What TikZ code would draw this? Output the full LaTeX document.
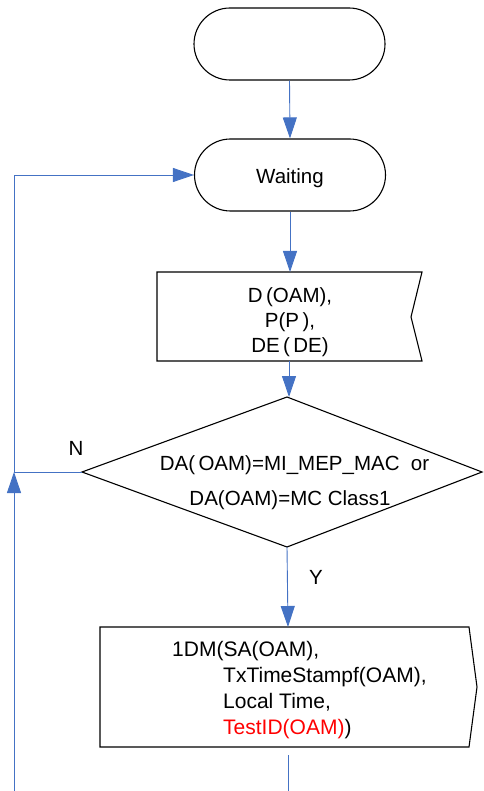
\documentclass[tikz,border=0pt]{standalone}
\usepackage{fontspec}
\setmainfont{Liberation Sans}
\usetikzlibrary{arrows.meta}
\definecolor{flowblue}{HTML}{4472C4}
\definecolor{flowred}{HTML}{FF0000}
\begin{document}
\begin{tikzpicture}[x=1pt,y=-1pt,
  shapeline/.style={draw=black,line width=1.1pt},
  terminal/.style={shapeline,rectangle,rounded corners=36pt,minimum width=191pt,minimum height=72pt,inner sep=0pt},
  conn/.style={draw=flowblue,line width=0.9pt},
  arr/.style={conn,-{Triangle[length=21pt,width=14pt]}},
  txt/.style={font=\fontsize{20.5}{24}\selectfont,inner sep=0pt,anchor=base},
  ltxt/.style={font=\fontsize{21}{24}\selectfont,inner sep=0pt,anchor=base west}]
\useasboundingbox (0,0) rectangle (483,791);
% terminals
\node[terminal] (start) at (289.5,44) {};
\node[terminal] (wait) at (290,175) {};
\node[txt] (waittext) at (290,184) {Waiting};
% input box
\coordinate (inNW) at (157,272);
\coordinate (inNE) at (422,272);
\coordinate (inE) at (411,317);
\coordinate (inSE) at (422,361);
\coordinate (inSW) at (157,361);
\coordinate (inN) at (289,272);
\coordinate (inS) at (289,361);
\draw[shapeline] (inNW) -- (inNE) -- (inE) -- (inSE) -- (inSW) -- cycle;
\node[txt] (in1) at (290,302.5) {D\,(OAM),};
\node[txt] (in2) at (290,327.5) {P(P\,),};
\node[txt] (in3) at (290,352.5) {DE\,(\,DE)};
% decision
\coordinate (dT) at (287,397);
\coordinate (dL) at (82,472);
\coordinate (dB) at (287,547);
\coordinate (dR) at (482,472);
\draw[shapeline] (dT) -- (dR) -- (dB) -- (dL) -- cycle;
\node[txt] (d1) at (294.5,470.5) {DA(\,OAM)=MI\_MEP\_MAC\ \ or};
\node[txt] (d2) at (290,505.5) {DA(OAM)=MC Class1};
% output box
\coordinate (oNW) at (100,627);
\coordinate (oNE) at (469,627);
\coordinate (oE) at (477,687);
\coordinate (oSE) at (469,747);
\coordinate (oSW) at (100,747);
\coordinate (oN) at (288,627);
\coordinate (oS) at (288,747);
\draw[shapeline] (oNW) -- (oNE) -- (oE) -- (oSE) -- (oSW) -- cycle;
\node[ltxt] (o1) at (172,656.5) {1DM(SA(OAM),};
\node[ltxt] (o2) at (223,682.5) {TxTimeStampf(OAM),};
\node[ltxt] (o3) at (223,708.5) {Local Time,};
\node[ltxt] (o4) at (223,734.5) {\textcolor{flowred}{TestID(OAM)})};
% labels
\node[txt] (nlab) at (76,455) {N};
\node[txt] (ylab) at (316,584.5) {Y};
% connectors
\coordinate (junc) at (14,472);
\coordinate (corner) at (14,175);
\coordinate (leftbottom) at (14,791);
\coordinate (bottomend) at (288,791);
\draw[arr] (start.south) -- (wait.north);
\draw[arr] (wait.south) -- (wait.south |- inN);
\draw[arr] (inS) -- (inS |- dT);
\draw[arr] (dB) -- (oN);
\draw[conn] (dL) -- (junc) -- (corner);
\draw[arr] (corner) -- (wait.west);
\draw[arr] (leftbottom) -- (junc);
\draw[conn,shorten <=8pt] (oS) -- (bottomend);
\end{tikzpicture}
\end{document}
